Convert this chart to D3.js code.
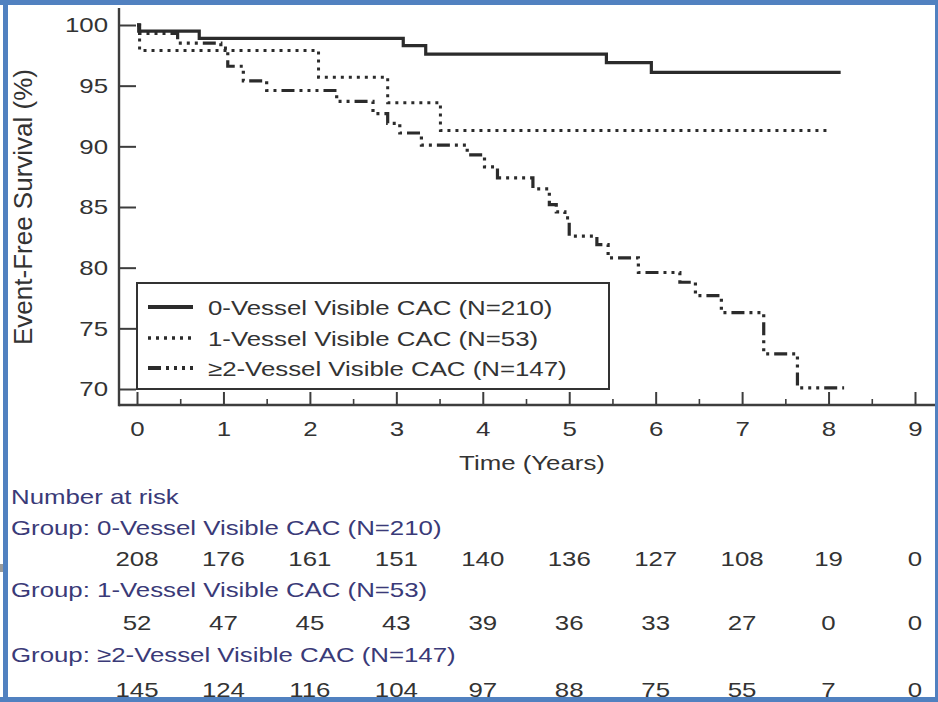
<!DOCTYPE html>
<html>
<head>
<meta charset="utf-8">
<script src="https://cdn.jsdelivr.net/npm/d3@7"></script>
<style>
  html, body { margin: 0; padding: 0; background: #fff; }
  svg { display: block; }
  text { font-family: "Liberation Sans", Arial, Helvetica, sans-serif; }
</style>
</head>
<body>
<svg id="chart" width="938" height="702"></svg>
<script>
// ---- data ----
const groupNames = ["0-Vessel Visible CAC", "1-Vessel Visible CAC", "\u22652-Vessel Visible CAC"];
const groupN = [210, 53, 147];
const yearTicks = [0, 1, 2, 3, 4, 5, 6, 7, 8, 9];
const halfYearTicks = [0.5, 1.5, 2.5, 3.5, 4.5, 5.5, 6.5, 7.5, 8.5];
const survivalTicks = [70, 75, 80, 85, 90, 95, 100];

// Kaplan-Meier step estimates (time in years, event-free survival in %)
const time0 = [0, 0.02, 0.72, 3.08, 3.34, 5.43, 5.95, 8.14];
const surv0 = [100, 99.5, 98.9, 98.3, 97.6, 96.9, 96.1, 96.1];
const time1 = [0, 0.03, 2.10, 2.90, 3.51, 7.98];
const surv1 = [100, 97.9, 95.7, 93.6, 91.3, 91.3];
const time2 = [0, 0.03, 0.47, 0.97, 1.05, 1.23, 1.50, 2.31, 2.73, 2.90, 3.04, 3.29, 3.82, 4.02, 4.17,
               4.58, 4.77, 4.85, 4.95, 5.00, 5.32, 5.45, 5.80, 6.28, 6.46, 6.76, 7.25, 7.64, 8.18];
const surv2 = [100, 99.3, 98.5, 98.1, 96.6, 95.4, 94.6, 93.7, 92.7, 91.9, 91.1, 90.1, 89.3, 88.3, 87.4,
               86.5, 85.2, 84.6, 84.1, 82.6, 81.9, 80.8, 79.6, 78.8, 77.7, 76.3, 72.9, 70.1, 70.1];

// number at risk at each whole year
const risk0 = [208, 176, 161, 151, 140, 136, 127, 108, 19, 0];
const risk1 = [52, 47, 45, 43, 39, 36, 33, 27, 0, 0];
const risk2 = [145, 124, 116, 104, 97, 88, 75, 55, 7, 0];

// ---- layout & styles ----
const SX = 1.23;                       // horizontal widening of the lettering
const FONT = 21;
const frame = { left: 119, top: 8, right: 935, bottom: 405 };
const ink = "#2b2b2b";
const axisInk = "#3d3d3d";
const tableInk = "#3a3a78";
const borderBlue = "#5181c0";
const lineStyles = [
  { width: 3.2, dash: null },
  { width: 3.0, dash: "3,5" },
  { width: 3.2, dash: "13,5,3,5,3,5,3,5" }
];

const svg = d3.select("#chart");
svg.append("rect").attr("width", 938).attr("height", 702).attr("fill", "#fff");

const x = d3.scaleLinear().domain([0, 9]).range([137, 915]);
const y = d3.scaleLinear().domain([70, 100]).range([389, 25]);

// widened text helper
function label(parent, px, py, str, opts = {}) {
  return parent.append("text")
    .attr("transform", `translate(${px},${py}) scale(${opts.sx ?? SX},1)`)
    .attr("text-anchor", opts.anchor || "start")
    .attr("font-size", opts.size || FONT)
    .attr("fill", opts.fill || "#333")
    .text(str);
}

// ---- axes ----
const gY = svg.append("g")
  .attr("transform", `translate(${frame.left},0)`)
  .call(d3.axisLeft(y).tickValues(survivalTicks).tickSize(-17).tickPadding(11));
gY.select(".domain").remove();
gY.selectAll(".tick line").attr("stroke", axisInk).attr("stroke-width", 2);
gY.selectAll(".tick text")
  .attr("x", 0)
  .attr("transform", `translate(-11,0) scale(${SX},1)`)
  .attr("font-size", FONT)
  .attr("font-family", '"Liberation Sans", Arial, sans-serif')
  .attr("fill", "#333");

const gX = svg.append("g")
  .attr("transform", `translate(0,${frame.bottom})`)
  .call(d3.axisBottom(x).tickValues(yearTicks).tickSize(-13).tickPadding(16));
gX.select(".domain").remove();
gX.selectAll(".tick line").attr("stroke", axisInk).attr("stroke-width", 2);
gX.selectAll(".tick text")
  .attr("y", 0)
  .attr("transform", `translate(0,16) scale(${SX},1)`)
  .attr("font-size", FONT)
  .attr("font-family", '"Liberation Sans", Arial, sans-serif')
  .attr("fill", "#333");

const gMinor = svg.append("g")
  .attr("transform", `translate(0,${frame.bottom})`)
  .call(d3.axisBottom(x).tickValues(halfYearTicks).tickSize(-6).tickFormat(""));
gMinor.select(".domain").remove();
gMinor.selectAll(".tick line").attr("stroke", axisInk).attr("stroke-width", 1.6);

svg.append("line")
  .attr("x1", frame.left).attr("x2", frame.right)
  .attr("y1", frame.bottom).attr("y2", frame.bottom)
  .attr("stroke", axisInk).attr("stroke-width", 2.6);
svg.append("line")
  .attr("x1", frame.left).attr("x2", frame.left)
  .attr("y1", frame.top).attr("y2", frame.bottom + 1.3)
  .attr("stroke", axisInk).attr("stroke-width", 2.4);

// axis titles
label(svg, 532, 470, "Time (Years)", { anchor: "middle" });
svg.append("text")
  .attr("transform", "translate(32,207) rotate(-90)")
  .attr("text-anchor", "middle")
  .attr("font-size", 26)
  .attr("fill", "#333")
  .text("Event-Free Survival (%)");

// ---- legend ----
const legend = svg.append("g");
legend.append("rect")
  .attr("x", x(0)).attr("y", 283)
  .attr("width", 472).attr("height", 106)
  .attr("fill", "#fff").attr("stroke", "#333").attr("stroke-width", 2);

// ---- survival curves ----
const curves = [
  d3.zip(time0, surv0),
  d3.zip(time1, surv1),
  d3.zip(time2, surv2)
];
const km = d3.line()
  .x(d => x(d[0]))
  .y(d => y(d[1]))
  .curve(d3.curveStepAfter);

curves.forEach((pts, i) => {
  svg.append("path")
    .attr("d", km(pts))
    .attr("fill", "none")
    .attr("stroke", ink)
    .attr("stroke-width", lineStyles[i].width)
    .attr("stroke-dasharray", lineStyles[i].dash)
    .attr("stroke-linejoin", "miter");
});

const legendRows = [307, 338, 368];
groupNames.forEach((name, i) => {
  legend.append("line")
    .attr("x1", 148).attr("x2", 193)
    .attr("y1", legendRows[i]).attr("y2", legendRows[i])
    .attr("stroke", ink)
    .attr("stroke-width", lineStyles[i].width + 0.6)
    .attr("stroke-dasharray", lineStyles[i].dash);
  label(legend, 208, legendRows[i] + 7.5, `${name} (N=${groupN[i]})`);
});

// ---- number at risk table ----
const table = svg.append("g");
label(table, 11, 504, "Number at risk", { fill: tableInk });
const riskRows = [risk0, risk1, risk2];
const headerY = [535, 597, 662];
const countY = [566, 630, 697];
riskRows.forEach((counts, i) => {
  label(table, 11, headerY[i], `Group: ${groupNames[i]} (N=${groupN[i]})`, { fill: tableInk });
  counts.forEach((c, j) => {
    label(table, x(yearTicks[j]), countY[i], String(c), { anchor: "middle" });
  });
});

// ---- frame ----
svg.append("rect").attr("x", 0).attr("y", 564).attr("width", 4).attr("height", 8).attr("fill", "#9a9a9a");
svg.append("rect").attr("x", 0).attr("y", 0).attr("width", 938).attr("height", 5).attr("fill", borderBlue);
svg.append("rect").attr("x", 3).attr("y", 0).attr("width", 5).attr("height", 702).attr("fill", borderBlue);
svg.append("rect").attr("x", 935).attr("y", 0).attr("width", 3).attr("height", 702).attr("fill", borderBlue);
svg.append("rect").attr("x", 0).attr("y", 697).attr("width", 938).attr("height", 5).attr("fill", borderBlue);
</script>
</body>
</html>
